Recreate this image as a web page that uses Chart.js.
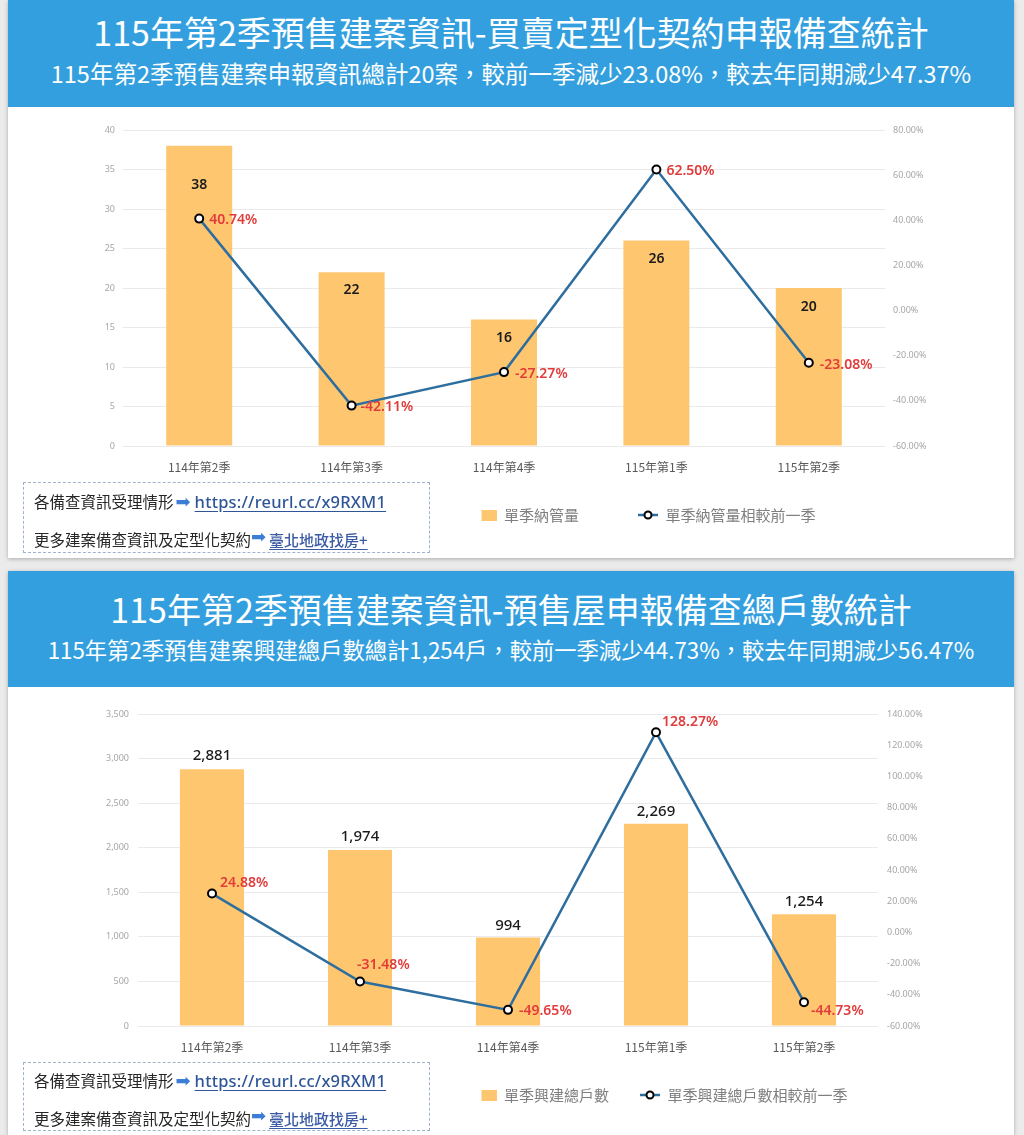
<!DOCTYPE html>
<html><head><meta charset="utf-8">
<script src="https://cdn.jsdelivr.net/npm/chart.js@4.4.1/dist/chart.umd.min.js"></script>
<style>
html,body{margin:0;padding:0;}
body{width:1024px;height:1135px;background:#ebebeb;position:relative;overflow:hidden;font-family:"Noto Sans CJK TC","Noto Sans",sans-serif;}
.panel{position:absolute;left:8px;width:1006px;background:#fff;box-shadow:0 1px 4px rgba(0,0,0,.28);overflow:hidden;}
.hdr{position:absolute;left:0;top:0;width:100%;background:#349FDE;color:#fff;text-align:center;}
.t1{position:absolute;left:0;width:100%;font-size:34px;line-height:40px;white-space:nowrap;}
.t2{position:absolute;left:0;width:100%;font-size:23.5px;line-height:30px;white-space:nowrap;}
canvas{position:absolute;left:0;}
.box{position:absolute;left:15px;width:405px;border:1px dashed #9fb2cc;}
.ln{position:absolute;left:10px;white-space:nowrap;font-size:15.5px;line-height:20px;color:#262626;}
.ar{font-family:"DejaVu Sans";color:#3C7DD6;font-size:18px;line-height:18px;margin:0 4px 0 2px;}
.lk1{font-family:"Noto Sans";font-size:16.5px;font-weight:500;letter-spacing:0.2px;color:#2F5597;text-decoration:underline;text-underline-offset:3px;}
.lk2{font-size:15px;font-weight:500;color:#3B5BA5;text-decoration:underline;text-underline-offset:3px;}
</style></head>
<body>
<div class="panel" style="top:0;height:558px;">
  <div class="hdr" style="height:107px;">
    <div class="t1" style="top:12px;">115年第2季預售建案資訊-買賣定型化契約申報備查統計</div>
    <div class="t2" style="top:58px;">115年第2季預售建案申報資訊總計20案，較前一季減少23.08%，較去年同期減少47.37%</div>
  </div>
  <canvas id="c1" width="1006" height="463" style="top:107px;width:1006px;height:463px;"></canvas>
  <div class="box" style="top:482px;height:69px;">
    <div class="ln" style="top:8px;">各備查資訊受理情形<span class="ar">➡</span><span class="lk1">https://reurl.cc/x9RXM1</span></div>
    <div class="ln" style="top:46px;">更多建案備查資訊及定型化契約<span class="ar" style="position:relative;top:-3px;margin:0 3px 0 0;">➡</span><span class="lk2">臺北地政找房+</span></div>
  </div>
</div>
<div class="panel" style="top:571px;height:564px;">
  <div class="hdr" style="height:116px;">
    <div class="t1" style="top:18px;">115年第2季預售建案資訊-預售屋申報備查總戶數統計</div>
    <div class="t2" style="top:63px;font-size:22.3px;">115年第2季預售建案興建總戶數總計1,254戶，較前一季減少44.73%，較去年同期減少56.47%</div>
  </div>
  <canvas id="c2" width="1006" height="448" style="top:116px;width:1006px;height:448px;"></canvas>
  <div class="box" style="top:491px;height:67px;">
    <div class="ln" style="top:7px;">各備查資訊受理情形<span class="ar">➡</span><span class="lk1">https://reurl.cc/x9RXM1</span></div>
    <div class="ln" style="top:45px;">更多建案備查資訊及定型化契約<span class="ar" style="position:relative;top:-3px;margin:0 3px 0 0;">➡</span><span class="lk2">臺北地政找房+</span></div>
  </div>
</div>
<script>
// ---- data ----
const categories = ['114年第2季', '114年第3季', '114年第4季', '115年第1季', '115年第2季'];
const caseCounts = [38, 22, 16, 26, 20];
const caseChangePct = [40.74, -42.11, -27.27, 62.50, -23.08];
const unitCounts = [2881, 1974, 994, 2269, 1254];
const unitChangePct = [24.88, -31.48, -49.65, 128.27, -44.73];
const caseAxisTicks = [0, 5, 10, 15, 20, 25, 30, 35, 40];
const casePctTicks = [-60, -40, -20, 0, 20, 40, 60, 80];
const unitAxisTicks = [0, 500, 1000, 1500, 2000, 2500, 3000, 3500];
const unitPctTicks = [-60, -40, -20, 0, 20, 40, 60, 80, 100, 120, 140];
const caseLegend = ['單季納管量', '單季納管量相較前一季'];
const unitLegend = ['單季興建總戶數', '單季興建總戶數相較前一季'];

// ---- styles ----
const BAR = '#FFC670';
const LINE = '#2E6E9E';
const RED = '#E23B3B';
const CJK = '"Noto Sans CJK TC", "Noto Sans", sans-serif';
const LAT = '"Noto Sans", sans-serif';

function makeImg(draw, w, h) {
  const c = document.createElement('canvas');
  c.width = w; c.height = h;
  draw(c.getContext('2d'));
  return c;
}
const barImg = makeImg(ctx => { ctx.fillStyle = BAR; ctx.fillRect(5, 0, 15, 11); }, 20, 11);
const lineImg = makeImg(ctx => {
  ctx.strokeStyle = LINE; ctx.lineWidth = 2.5;
  ctx.beginPath(); ctx.moveTo(0, 6); ctx.lineTo(20, 6); ctx.stroke();
  ctx.beginPath(); ctx.arc(10, 6, 3.5, 0, Math.PI * 2);
  ctx.fillStyle = '#fff'; ctx.fill(); ctx.strokeStyle = '#000'; ctx.lineWidth = 2; ctx.stroke();
}, 20, 12);

const legendPlace = {
  id: 'legendPlace',
  afterLayout(chart, args, opts) {
    const lg = chart.legend;
    if (!lg) return;
    const p = lg.options.labels.padding;
    const w = lg.right - lg.left, h = lg.bottom - lg.top;
    lg.left = opts.x - p; lg.right = lg.left + w;
    lg.top = opts.y - p - 7.5; lg.bottom = lg.top + h;
  }
};

const valueLabels = {
  id: 'valueLabels',
  afterDatasetsDraw(chart, args, opts) {
    const ctx = chart.ctx;
    const bm = chart.getDatasetMeta(0), lm = chart.getDatasetMeta(1);
    const bd = chart.data.datasets[0].data, ld = chart.data.datasets[1].data;
    ctx.save();
    ctx.textBaseline = 'middle';
    ctx.font = opts.barFont; ctx.fillStyle = opts.barColor; ctx.textAlign = 'center';
    bm.data.forEach((el, i) => {
      ctx.fillText(bd[i].toLocaleString('en-US'), el.x, el.y + opts.barDy[i]);
    });
    ctx.font = opts.lineFont; ctx.fillStyle = RED; ctx.textAlign = 'left';
    lm.data.forEach((el, i) => {
      const [dx, dy] = opts.lineOff[i];
      ctx.fillText(ld[i].toFixed(2) + '%', el.x + dx, el.y + dy);
    });
    ctx.restore();
  }
};

function buildChart(id, o) {
  const tickFont = { family: LAT, size: 9 };
  return new Chart(document.getElementById(id), {
    data: {
      labels: categories,
      datasets: [
        { type: 'bar', label: o.legend[0], data: o.bars, backgroundColor: BAR, yAxisID: 'y', order: 2,
          barPercentage: 0.433, categoryPercentage: 1 },
        { type: 'line', label: o.legend[1], data: o.pcts, yAxisID: 'y1', order: 1,
          borderColor: LINE, borderWidth: 2.5, tension: 0,
          pointRadius: 4, pointBackgroundColor: '#fff', pointBorderColor: '#000', pointBorderWidth: 2 }
      ]
    },
    options: {
      responsive: false, animation: false, devicePixelRatio: 1,
      layout: { padding: { top: o.padTop, bottom: o.padBottom, left: 0, right: 0 } },
      plugins: {
        tooltip: { enabled: false },
        legend: {
          position: 'bottom', align: 'start',
          labels: {
            usePointStyle: true, pointStyleWidth: 20, padding: o.legendPad,
            color: '#7F7F7F', font: { family: CJK, size: 15 },
            generateLabels: () => [
              { text: o.legend[0], pointStyle: barImg, fillStyle: BAR, strokeStyle: BAR, lineWidth: 0, hidden: false, datasetIndex: 0, fontColor: '#7F7F7F' },
              { text: o.legend[1], pointStyle: lineImg, fillStyle: '#fff', strokeStyle: LINE, lineWidth: 0, hidden: false, datasetIndex: 1, fontColor: '#7F7F7F' }
            ]
          }
        },
        legendPlace: { x: 468.5, y: 408 },
        valueLabels: o.labels
      },
      scales: {
        x: {
          grid: { display: false }, border: { display: false },
          ticks: { color: '#595959', font: { family: CJK, size: 12 }, padding: 6, maxRotation: 0 },
          afterFit(s) { s.height = o.xH; }
        },
        y: {
          position: 'left', min: o.leftTicks[0], max: o.leftTicks[o.leftTicks.length - 1],
          ticks: { stepSize: o.leftTicks[1] - o.leftTicks[0], color: '#A6A6A6', font: tickFont, padding: o.tickPad,
            callback: v => v.toLocaleString('en-US') },
          grid: { color: '#EAEAEA', drawTicks: false, lineWidth: 1 }, border: { display: false },
          afterFit(s) { s.width = o.leftW; }
        },
        y1: {
          position: 'right', min: o.rightTicks[0], max: o.rightTicks[o.rightTicks.length - 1],
          ticks: { stepSize: o.rightTicks[1] - o.rightTicks[0], color: '#A6A6A6', font: tickFont, padding: o.tickPad,
            callback: v => v.toFixed(2) + '%' },
          grid: { display: false, drawTicks: false }, border: { display: false },
          afterFit(s) { s.width = o.rightW; }
        }
      }
    },
    plugins: [legendPlace, valueLabels]
  });
}

buildChart('c1', {
  bars: caseCounts, pcts: caseChangePct, legend: caseLegend,
  leftTicks: caseAxisTicks, rightTicks: casePctTicks,
  padTop: 23, padBottom: 0, xH: 40, legendPad: 59, leftW: 115, rightW: 129, tickPad: 8,
  labels: {
    barFont: '600 14px ' + LAT, barColor: '#1a1a1a', barDy: [39, 18, 18, 18, 19],
    lineFont: '600 14px ' + LAT,
    lineOff: [[10, 1], [9, 1], [11, 2], [10, 2], [11, 2]]
  }
});

buildChart('c2', {
  bars: unitCounts, pcts: unitChangePct, legend: unitLegend,
  leftTicks: unitAxisTicks, rightTicks: unitPctTicks,
  padTop: 27, padBottom: 13, xH: 40, legendPad: 31, leftW: 130, rightW: 136, tickPad: 9,
  labels: {
    barFont: '500 15px ' + LAT, barColor: '#1a1a1a', barDy: [-13, -13, -12, -12, -12],
    lineFont: '600 14px ' + LAT,
    lineOff: [[8, -11], [-3, -16], [11, 1], [6, -10], [7, 9]]
  }
});
</script>
</body></html>
